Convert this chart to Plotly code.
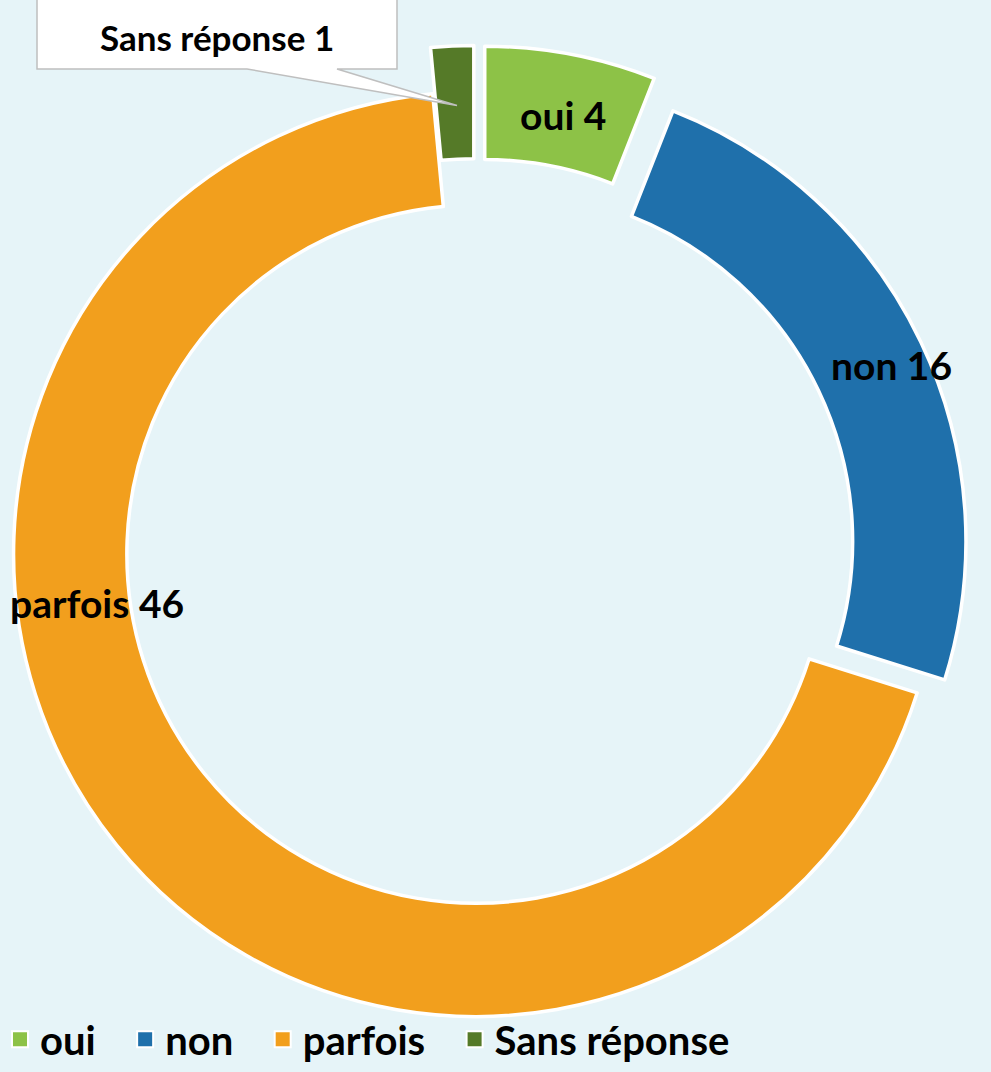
import math
import plotly.graph_objects as go

# Survey answers
labels = ["oui", "non", "parfois", "Sans réponse"]
values = [4, 16, 46, 1]

# Styling
colors = ["#8DC247", "#1F70AB", "#F29F1D", "#557A28"]
pull = [0.10, 0.065, 0.0, 0.10]          # explode distance as a fraction of the radius
label_pos = [(563, 117), (891, 370), (97, 612), (217, 38)]  # text anchors (px)
label_size = [39, 39, 39, 35]

W, H = 991, 1072
BG = "#E6F4F8"
FONT = "Lato"
CX, CY, R = 476, 562, 469                 # ring centre and outer radius (px)
HOLE = 0.755
PAD = "\u00a0\u00a0\u2009"                # extra room after each legend entry

fig = go.Figure()

# One pie layer per slice, so each slice can be exploded on its own domain
total = sum(values)
start = 0.0
for i, (lab, val) in enumerate(zip(labels, values)):
    mid = math.radians((start + val / 2) / total * 360.0)
    start += val
    dx = pull[i] * R * math.sin(mid)
    dy = -pull[i] * R * math.cos(mid)
    cx, cy = CX + dx, CY + dy
    fig.add_trace(go.Pie(
        labels=labels,
        values=values,
        sort=False,
        direction="clockwise",
        rotation=0,
        hole=HOLE,
        textinfo="none",
        hoverinfo=["label+value" if j == i else "none" for j in range(len(labels))],
        marker=dict(
            colors=[colors[j] if j == i else "rgba(0,0,0,0)" for j in range(len(labels))],
            line=dict(color="white",
                      width=[3.5 if j == i else 0 for j in range(len(labels))]),
        ),
        domain=dict(x=[(cx - R) / W, (cx + R) / W],
                    y=[1 - (cy + R) / H, 1 - (cy - R) / H]),
        showlegend=False,
    ))

# Legend entries
for lab, col in zip(labels, colors):
    fig.add_trace(go.Scatter(
        x=[None], y=[None], mode="markers", name=lab + PAD,
        marker=dict(symbol="square", size=20, color=col,
                    line=dict(color="white", width=2)),
        hoverinfo="skip",
    ))

# Callout box for the smallest slice
fig.add_shape(
    type="path",
    path="M 37 -10 L 397 -10 L 397 70 L 337 70 L 457 107 L 247 70 L 37 70 Z",
    xref="x", yref="y", fillcolor="white",
    line=dict(color="#BFBFBF", width=1.5), layer="above",
)

# Slice labels
for lab, val, (px, py), fs in zip(labels, values, label_pos, label_size):
    fig.add_annotation(
        x=px, y=py, xref="x", yref="y", text=f"{lab} {val}", showarrow=False,
        font=dict(family=FONT, size=fs, color="black", weight="bold"),
        xanchor="center", yanchor="middle",
    )

fig.update_layout(
    width=W, height=H,
    margin=dict(l=0, r=0, t=0, b=0),
    paper_bgcolor=BG, plot_bgcolor=BG,
    xaxis=dict(visible=False, range=[0, W], fixedrange=True),
    yaxis=dict(visible=False, range=[H, 0], fixedrange=True),
    legend=dict(
        orientation="h", x=0, xanchor="left", y=1 - 1054 / H, yanchor="middle",
        font=dict(family=FONT, size=40, color="black", weight="bold"),
        bgcolor="rgba(0,0,0,0)", itemsizing="trace",
    ),
    font=dict(family=FONT),
)

fig.write_html("out.html")
